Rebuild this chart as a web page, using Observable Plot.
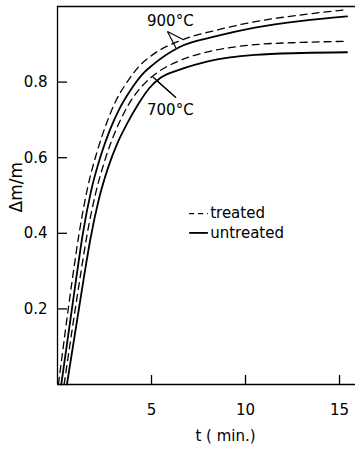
<!DOCTYPE html>
<html>
<head>
<meta charset="utf-8">
<script src="https://cdn.jsdelivr.net/npm/d3@7"></script>
<script src="https://cdn.jsdelivr.net/npm/@observablehq/plot@0.6"></script>
<style>
  html, body { margin: 0; padding: 0; background: #fff; }
  #chart svg { display: block; }
</style>
</head>
<body>
<div id="chart"></div>
<script>
// ---- data ----
const t900T = [0.05, 0.8, 1.15, 1.6, 2.1, 2.6, 3.1, 3.7, 4.4, 5.05, 6.54, 8.5, 10.53, 13.0, 15.43];
const v900T = [0.0, 0.282, 0.400, 0.520, 0.615, 0.690, 0.750, 0.800, 0.845, 0.872, 0.910, 0.938, 0.960, 0.978, 0.992];

const t900U = [0.2, 1.0, 1.35, 1.8, 2.3, 2.8, 3.3, 3.9, 4.5, 5.05, 6.5, 8.5, 10.5, 13.0, 15.4];
const v900U = [0.0, 0.282, 0.400, 0.515, 0.605, 0.675, 0.730, 0.780, 0.820, 0.845, 0.893, 0.922, 0.944, 0.962, 0.974];

const t700T = [0.35, 1.2, 1.55, 2.0, 2.5, 3.0, 3.5, 4.1, 4.7, 5.3, 6.5, 8.0, 10.5, 13.0, 15.4];
const v700T = [0.0, 0.282, 0.390, 0.500, 0.590, 0.660, 0.715, 0.765, 0.800, 0.825, 0.857, 0.880, 0.899, 0.905, 0.908];

const t700U = [0.5, 1.4, 1.75, 2.2, 2.7, 3.2, 3.7, 4.3, 4.9, 5.5, 6.5, 8.0, 10.5, 13.0, 15.4];
const v700U = [0.0, 0.282, 0.385, 0.490, 0.575, 0.640, 0.690, 0.742, 0.785, 0.812, 0.833, 0.855, 0.872, 0.877, 0.879];

const xTicks = [5, 10, 15];
const yTicks = [0.2, 0.4, 0.6, 0.8];
const xLabel = "t ( min.)";
const yLabel = "\u0394m/m";

const legendNames = ["treated", "untreated"];
const legendT = [7.0, 8.0, 8.12];        // sample start, sample end, text start
const legendV = [0.452, 0.401];

const annoNames = ["900\u00B0C", "700\u00B0C"];
const annoLabelT = [6.0, 6.0];
const annoLabelV = [0.960, 0.727];
const annoApexT = [5.85, 6.3];
const annoApexV = [0.934, 0.759];
const annoEndT = [[6.7, 6.3], [5.05, 5.3]];
const annoEndV = [[0.912, 0.890], [0.815, 0.803]];

// ---- build tables ----
const mk = (ts, vs) => ts.map((t, i) => ({t, v: vs[i]}));
const s900T = mk(t900T, v900T), s900U = mk(t900U, v900U);
const s700T = mk(t700T, v700T), s700U = mk(t700U, v700U);

const legendRows = legendNames.map((name, i) => ({name, v: legendV[i], dashed: i === 0}));
const annoLines = [];
annoNames.forEach((n, i) => {
  annoEndT[i].forEach((et, j) => {
    annoLines.push({x1: annoApexT[i], y1: annoApexV[i], x2: et, y2: annoEndV[i][j]});
  });
});
const annoText = annoNames.map((n, i) => ({n, t: annoLabelT[i], v: annoLabelV[i]}));

const font = "DejaVu Sans, sans-serif";
const dash = "7,5";

const plot = Plot.plot({
  width: 355,
  height: 452,
  marginLeft: 57,
  marginRight: 0,
  marginTop: 6,
  marginBottom: 68,
  style: {fontFamily: font, fontSize: "15px", color: "#000", background: "#fff"},
  x: {domain: [0, 15.85]},
  y: {domain: [0, 1]},
  marks: [
    // frame
    Plot.ruleY([1], {stroke: "#000", strokeWidth: 1.3}),
    Plot.ruleY([0], {stroke: "#000", strokeWidth: 1.3}),
    Plot.ruleX([0], {stroke: "#000", strokeWidth: 1.3}),
    // inward ticks
    Plot.axisX({ticks: xTicks, tickSize: -9, text: null, label: null, strokeWidth: 1.3}),
    Plot.axisX({ticks: xTicks, tickSize: 0, tickPadding: 20, label: null, fontSize: 15}),
    Plot.axisY({ticks: yTicks, tickSize: -10, text: null, label: null, strokeWidth: 1.3}),
    Plot.axisY({ticks: yTicks, tickSize: 0, tickPadding: 10, label: null, fontSize: 15}),
    // curves
    Plot.line(s900T, {x: "t", y: "v", stroke: "#000", strokeWidth: 1.3, strokeDasharray: dash, curve: "monotone-x"}),
    Plot.line(s900U, {x: "t", y: "v", stroke: "#000", strokeWidth: 1.8, curve: "monotone-x"}),
    Plot.line(s700T, {x: "t", y: "v", stroke: "#000", strokeWidth: 1.3, strokeDasharray: dash, curve: "monotone-x"}),
    Plot.line(s700U, {x: "t", y: "v", stroke: "#000", strokeWidth: 1.8, curve: "monotone-x"}),
    // annotations
    Plot.link(annoLines, {x1: "x1", y1: "y1", x2: "x2", y2: "y2", stroke: "#000", strokeWidth: 1.2}),
    Plot.text(annoText, {x: "t", y: "v", text: "n", fontSize: 15}),
    // legend
    Plot.link(legendRows.filter(d => d.dashed), {x1: () => legendT[0], x2: () => legendT[1], y1: "v", y2: "v", stroke: "#000", strokeWidth: 1.3, strokeDasharray: "5,4"}),
    Plot.link(legendRows.filter(d => !d.dashed), {x1: () => legendT[0], x2: () => legendT[1], y1: "v", y2: "v", stroke: "#000", strokeWidth: 1.8}),
    Plot.text(legendRows, {x: () => legendT[2], y: "v", text: "name", textAnchor: "start", fontSize: 15}),
    // axis titles
    Plot.text([xLabel], {frameAnchor: "bottom", dx: 19, dy: 56, fontSize: 15}),
    Plot.text([yLabel], {frameAnchor: "left", rotate: -90, dx: -41, dy: 17, fontSize: 17})
  ]
});
document.getElementById("chart").appendChild(plot);
</script>
</body>
</html>
